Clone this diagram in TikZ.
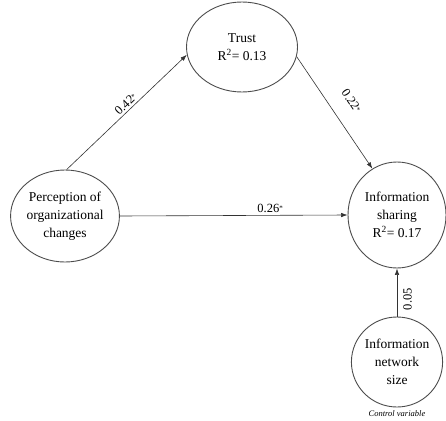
\documentclass[tikz,border=0pt]{standalone}
\usepackage{fontspec}
\setmainfont{Liberation Serif}
\usetikzlibrary{shapes.geometric,arrows.meta}
\tikzset{
  construct/.style={ellipse, draw=black!70, line width=0.9pt, inner sep=0pt, align=center,
    font=\fontsize{13.5}{18}\selectfont},
  path/.style={draw=black!80, line width=0.6pt, -{Latex[length=6.5pt,width=4.5pt]}},
  coef/.style={font=\fontsize{12.5}{14}\selectfont, inner sep=1pt}
}
\newcommand{\sig}{\raisebox{2pt}{\scriptsize*}}
\begin{document}
\begin{tikzpicture}[x=1pt,y=1pt]
\useasboundingbox (0,0) rectangle (446,-420);
\node[construct, minimum width=111pt, minimum height=90pt] (t) at (242,-47) {Trust\\R\textsuperscript{2}= 0.13};
\node[construct, minimum width=106pt, minimum height=92pt] (p) at (65,-216) {Perception of\\organizational\\changes};
\node[construct, minimum width=98pt, minimum height=106pt] (s) at (397,-215) {Information\\sharing\\R\textsuperscript{2}= 0.17};
\node[construct, minimum width=86pt, minimum height=90pt] (n) at (397,-362) {Information\\network\\size};
\node[font=\itshape\fontsize{8.5}{10}\selectfont] (cv) at (397,-414) {Control variable};

\draw[path] (p.88) -- node[coef, pos=0.53, sloped, above=1pt] {0.42\sig} (t.188);
\draw[path] (t.-10) -- node[coef, pos=0.5, sloped, above=15pt] {0.22\sig} (s.118);
\draw[path] (p.east) -- node[coef, pos=0.66, above=1pt] {0.26\sig} (s.west);
\draw[path] (n.north) -- node[coef, pos=0.36, sloped, below=5pt] {0.05} (s.south);
\end{tikzpicture}
\end{document}
